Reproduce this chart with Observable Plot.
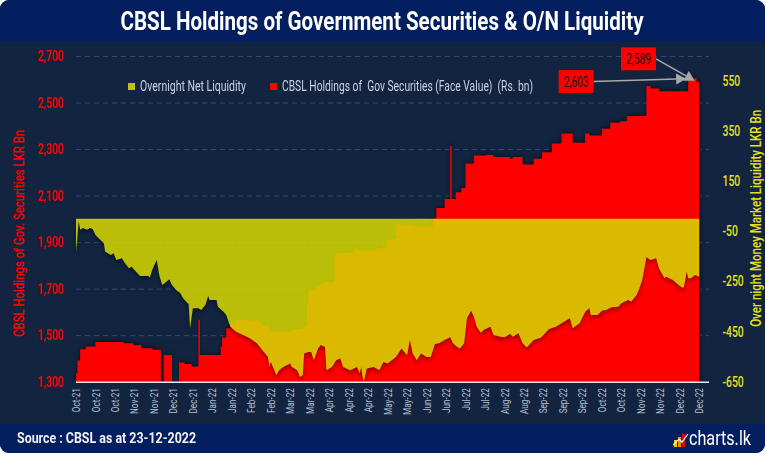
<!DOCTYPE html>
<html>
<head>
<meta charset="utf-8">
<script src="https://cdn.jsdelivr.net/npm/d3@7"></script>
<script src="https://cdn.jsdelivr.net/npm/@observablehq/plot@0.6"></script>
<style>
  html, body { margin: 0; padding: 0; background: #ffffff; }
  #card { position: relative; width: 765px; height: 453px; border-radius: 9px; overflow: hidden; background: #12243f;
          font-family: Roboto, 'Noto Sans', sans-serif; }
  #title { position: absolute; left: 0; top: 0; width: 100%; height: 42px; background: #031f5f; text-align: center; }
  #title span { display: inline-block; color: #ffffff; font-weight: bold; font-size: 25px; line-height: 44px; white-space: nowrap; transform-origin: 50% 50%; }
  #chart { position: absolute; left: 0; top: 42px; }
  .fit { position: absolute; white-space: pre; transform-origin: 0 50%; }
  .lg { color: #c9d3e4; font-size: 14px; top: 77px; line-height: 18px; }
  .sw { position: absolute; width: 7px; height: 7px; top: 83px; }
  #footer { position: absolute; left: 0; top: 424px; width: 100%; height: 29px; background: #031f5f; }
  #source { left: 17px; top: 0; line-height: 29px; color: #f2f2f2; font-size: 15px; font-weight: bold; }
  #logoText { left: 689px; top: 0; line-height: 29px; color: #ffffff; font-size: 21px; }
  #logoIcon { position: absolute; left: 673px; top: 7px; }
</style>
</head>
<body>
<div id="card">
  <div id="title"><span id="titleText">CBSL Holdings of Government Securities &amp; O/N Liquidity</span></div>
  <div id="chart"></div>
  <div id="footer">
    <div id="source" class="fit">Source : CBSL as at 23-12-2022</div>
    <svg id="logoIcon" width="16" height="16" viewBox="0 0 16 16">
      <rect x="1" y="9" width="3" height="7" fill="#f6c800"/>
      <rect x="5" y="6" width="3" height="10" fill="#f39200"/>
      <rect x="9" y="3" width="3" height="13" fill="#e30613"/>
      <path d="M0,14 L6,8 L9,11 L15,3" stroke="#ffffff" stroke-width="1.2" fill="none"/>
    </svg>
    <div id="logoText" class="fit">charts.lk</div>
  </div>
</div>
<script>
// ---------- data ----------
const holdDates = ["2021-10-01","2021-10-02","2021-10-04","2021-10-08","2021-10-15","2021-11-04","2021-11-11","2021-11-17","2021-11-25","2021-12-01",
  "2021-12-02","2021-12-03","2021-12-09","2021-12-10","2021-12-14","2021-12-18","2021-12-23","2021-12-28","2021-12-29","2022-01-12",
  "2022-01-13","2022-01-14","2022-01-17","2022-01-20","2022-01-24","2022-02-03","2022-02-10","2022-02-12","2022-02-17","2022-03-05",
  "2022-03-11","2022-03-14","2022-03-16","2022-03-17","2022-03-22","2022-03-25","2022-03-28","2022-04-04","2022-04-05","2022-04-06",
  "2022-04-18","2022-04-19","2022-04-21","2022-05-05","2022-05-12","2022-05-17","2022-05-19","2022-05-31","2022-06-12","2022-06-15",
  "2022-06-17","2022-06-23","2022-06-27","2022-06-28","2022-07-01","2022-07-05","2022-07-08","2022-07-14","2022-07-23","2022-07-28",
  "2022-08-09","2022-08-11","2022-08-18","2022-08-26","2022-09-01","2022-09-08","2022-09-15","2022-09-23","2022-10-02","2022-10-05",
  "2022-10-14","2022-10-20","2022-10-27","2022-11-01","2022-11-15","2022-11-18","2022-11-24","2022-12-15","2022-12-21","2022-12-23"];
const holdValues = [1336,1390,1440,1451,1471,1465,1458,1444,1437,1437,
  null,1415,1415,null,1382,1376,1365,1566,1415,1415,
  1450,1490,1530,1551,1566,1563,1551,1540,1514,1526,
  1530,1540,1639,1695,1709,1721,1727,1731,1846,1853,
  1860,1874,1865,1874,1910,1913,1975,1968,1971,2001,
  2047,2085,2313,2085,2114,2133,2238,2272,2276,2266,
  2258,2266,2234,2258,2286,2324,2367,2327,2367,2358,
  2387,2413,2420,2442,2571,2560,2549,2603,2589,2589];

const liqDates = ["2021-10-01","2021-10-03","2021-10-04","2021-10-06","2021-10-09","2021-10-11","2021-10-13","2021-10-15","2021-10-18","2021-10-21",
  "2021-10-22","2021-10-26","2021-10-28","2021-10-30","2021-11-03","2021-11-05","2021-11-08","2021-11-10","2021-11-12","2021-11-16",
  "2021-11-22","2021-11-23","2021-11-25","2021-11-28","2021-11-30","2021-12-02","2021-12-05","2021-12-07","2021-12-09","2021-12-12",
  "2021-12-15","2021-12-17","2021-12-20","2021-12-21","2021-12-22","2021-12-24","2021-12-28","2021-12-30","2022-01-02","2022-01-04",
  "2022-01-05","2022-01-10","2022-01-11","2022-01-15","2022-01-17","2022-01-19","2022-01-20","2022-01-24","2022-01-29","2022-02-03",
  "2022-02-08","2022-02-12","2022-02-16","2022-02-17","2022-02-18","2022-02-22","2022-02-24","2022-02-27","2022-03-04","2022-03-05",
  "2022-03-09","2022-03-11","2022-03-13","2022-03-14","2022-03-17","2022-03-19","2022-03-21","2022-03-24","2022-03-26","2022-03-29",
  "2022-03-30","2022-04-03","2022-04-06","2022-04-09","2022-04-11","2022-04-16","2022-04-21","2022-04-23","2022-04-24","2022-04-25",
  "2022-04-26","2022-04-28","2022-05-03","2022-05-07","2022-05-10","2022-05-13","2022-05-19","2022-05-23","2022-05-27","2022-05-29",
  "2022-05-31","2022-06-03","2022-06-06","2022-06-10","2022-06-13","2022-06-16","2022-06-19","2022-06-23","2022-06-27","2022-06-29",
  "2022-07-02","2022-07-04","2022-07-07","2022-07-09","2022-07-12","2022-07-14","2022-07-16","2022-07-19","2022-07-21","2022-07-26",
  "2022-07-28","2022-08-02","2022-08-05","2022-08-09","2022-08-11","2022-08-15","2022-08-18","2022-08-21","2022-08-26","2022-08-31",
  "2022-09-02","2022-09-06","2022-09-11","2022-09-15","2022-09-21","2022-09-23","2022-09-28","2022-10-02","2022-10-05","2022-10-06",
  "2022-10-11","2022-10-14","2022-10-17","2022-10-21","2022-10-26","2022-10-28","2022-11-02","2022-11-04","2022-11-08","2022-11-10",
  "2022-11-12","2022-11-15","2022-11-18","2022-11-22","2022-11-24","2022-11-28","2022-11-29","2022-12-04","2022-12-08","2022-12-11",
  "2022-12-12","2022-12-14","2022-12-15","2022-12-17","2022-12-20","2022-12-23"];
const liqValues = [-131,-11,-44,-37,-44,-37,-41,-64,-81,-97,
  -131,-144,-137,-164,-157,-175,-197,-191,-204,-228,
  -228,-234,-201,-164,-228,-264,-251,-241,-264,-284,
  -297,-317,-335,-340,-437,-357,-357,-364,-344,-308,
  -324,-324,-351,-371,-384,-417,-431,-451,-464,-477,
  -497,-524,-551,-591,-570,-624,-604,-591,-577,-590,
  -604,-631,-624,-537,-531,-531,-564,-517,-504,-511,
  -604,-591,-564,-557,-591,-604,-591,-617,-591,-631,
  -648,-597,-591,-604,-571,-577,-551,-517,-544,-484,
  -537,-564,-537,-551,-551,-500,-497,-484,-473,-497,
  -511,-517,-497,-397,-367,-391,-431,-455,-444,-431,
  -464,-471,-473,-460,-471,-457,-497,-513,-484,-475,
  -464,-440,-431,-417,-397,-437,-417,-371,-357,-384,
  -384,-367,-364,-353,-351,-337,-324,-331,-304,-277,
  -244,-153,-164,-157,-197,-237,-231,-244,-264,-275,
  -271,-211,-237,-237,-224,-231];

const leftTicks = [1300,1500,1700,1900,2100,2300,2500,2700];
const rightTicks = [-650,-450,-250,-50,150,350,550];
const xTickDates = ["2021-10-01","2021-10-15","2021-10-29","2021-11-12","2021-11-26","2021-12-10","2021-12-24",
  "2022-01-07","2022-01-21","2022-02-04","2022-02-18","2022-03-04","2022-03-18","2022-04-01","2022-04-15","2022-04-29",
  "2022-05-13","2022-05-27","2022-06-10","2022-06-24","2022-07-08","2022-07-22","2022-08-05","2022-08-19","2022-09-02",
  "2022-09-16","2022-09-30","2022-10-14","2022-10-28","2022-11-11","2022-11-25","2022-12-09","2022-12-23"];
const calloutDates = ["2022-12-15","2022-12-21"];
const calloutValues = [2603, 2589];
const seriesNames = ["Overnight Net Liquidity", "CBSL Holdings of  Gov Securities (Face Value)  (Rs. bn)"];
const leftTitle = "CBSL Holdings of Gov. Securities LKR Bn";
const rightTitle = "Over night Money Market Liquidity LKR Bn";

// ---------- scales mapping (right axis mapped onto the left scale) ----------
const leftDomain = [1300, 2700];
const rightDomain = [-650, 650];
const k = (leftDomain[1] - leftDomain[0]) / (rightDomain[1] - rightDomain[0]);
const toLeft = v => leftDomain[0] + (v - rightDomain[0]) * k;
const fromLeft = v => rightDomain[0] + (v - leftDomain[0]) / k;

const hold = holdDates.map((d, i) => ({date: new Date(d), value: holdValues[i]}));
const liq = liqDates.map((d, i) => ({date: new Date(d), value: liqValues[i]}));

const FONT = "Roboto, 'Noto Sans', sans-serif";
const RED = "#ff0000", YEL = "#e7e800", AXYEL = "#e6e21c", LIQ_SWATCH = "#bfc10f";

const calloutOffsets = [{dx: -112, dy: 3}, {dx: -58, dy: -23}];
function callouts(index, scales) {
  const g = d3.create("svg:g");
  calloutDates.forEach((d, i) => {
    const px = scales.x(new Date(d)), py = scales.y(calloutValues[i]);
    const o = calloutOffsets[i];
    const bx = px + o.dx, by = py + o.dy, bw = 35, bh = 23;
    const sx = bx + bw / 2, sy = by;
    const ang = Math.atan2(py - sy, px - sx);
    const len = Math.hypot(px - sx, py - sy) - 2;
    const ex = sx + Math.cos(ang) * len, ey = sy + Math.sin(ang) * len;
    const hl = 10, hw = 5.5;
    const hx = ex - Math.cos(ang) * hl, hy = ey - Math.sin(ang) * hl;
    g.append("line").attr("x1", sx).attr("y1", sy).attr("x2", hx).attr("y2", hy)
      .attr("stroke", "#a9a9a9").attr("stroke-width", 1.5);
    g.append("path").attr("d", `M${ex},${ey}L${hx - Math.sin(ang) * hw},${hy + Math.cos(ang) * hw}L${hx + Math.sin(ang) * hw},${hy - Math.cos(ang) * hw}Z`)
      .attr("fill", "#a9a9a9");
    g.append("rect").attr("x", bx - bw / 2).attr("y", by - bh / 2).attr("width", bw).attr("height", bh).attr("fill", RED);
    g.append("text").attr("class", "callout").attr("x", bx).attr("y", by).attr("dy", "0.36em").attr("text-anchor", "middle")
      .attr("fill", "#111").attr("font-size", 15).attr("font-family", FONT).text(d3.format(",")(calloutValues[i]));
  });
  return g.node();
}

const chart = Plot.plot({
  width: 765,
  height: 382,
  marginTop: 14,
  marginBottom: 42.3,
  marginLeft: 76,
  marginRight: 56,
  style: {background: "transparent", fontFamily: FONT, overflow: "visible"},
  x: {type: "utc", domain: [new Date("2021-10-01"), new Date("2022-12-30")]},
  y: {domain: leftDomain},
  marks: [
    Plot.ruleY(leftTicks.filter(t => t > leftDomain[0]), {stroke: "#2b4d7e", strokeDasharray: "5,4", strokeWidth: 1}),
    Plot.areaY(hold, {x: "date", y1: leftDomain[0], y2: "value", curve: "step-after", fill: RED}),
    Plot.areaY(liq, {x: "date", y1: toLeft(0), y2: d => toLeft(d.value), fill: YEL, fillOpacity: 0.8}),
    Plot.ruleY([leftDomain[0]], {stroke: "#e9e9e9", strokeWidth: 1.5}),
    Plot.axisY(leftTicks, {anchor: "left", tickSize: 0, tickPadding: 13, tickFormat: d3.format(","), fill: RED, fontSize: 14, fontWeight: 500, label: null}),
    Plot.axisY(rightTicks.map(toLeft), {anchor: "right", tickSize: 0, tickPadding: 13, tickFormat: v => String(Math.round(fromLeft(v))), fill: AXYEL, fontSize: 14, fontWeight: 500, label: null}),
    Plot.axisX(xTickDates.map(d => new Date(d)), {anchor: "bottom", tickRotate: -90, tickSize: 0, tickPadding: 6, tickFormat: d3.utcFormat("%b-%y"), fill: "#b5c0d2", fontSize: 11, label: null}),
    Plot.text([leftTitle], {frameAnchor: "left", dx: -57, dy: 14, rotate: -90, textAnchor: "middle", fill: RED, fontSize: 15, fontWeight: 500, text: d => d}),
    Plot.text([rightTitle], {frameAnchor: "right", dx: 47, dy: -1, rotate: -90, textAnchor: "middle", fill: AXYEL, fontSize: 15, fontWeight: 500, text: d => d}),
    callouts
  ]
});
document.getElementById("chart").appendChild(chart);

// ---------- condense the texts (the original uses a condensed face) ----------
const targets = new Map([[leftTitle, 207], [rightTitle, 217]]);
chart.querySelectorAll("text").forEach(t => {
  const s = t.textContent;
  const w = t.getComputedTextLength();
  if (!w) return;
  const anchor = getComputedStyle(t).textAnchor;
  let L;
  if (targets.has(s)) L = targets.get(s);
  else if (t.classList.contains("callout")) L = w * 0.68;
  else L = w * 0.74;
  t.setAttribute("text-anchor", anchor);
  t.setAttribute("textLength", L);
  t.setAttribute("lengthAdjust", "spacingAndGlyphs");
});

// soft drop shadows like the original
const areas = chart.querySelectorAll('g[aria-label="area"]');
if (areas[0]) areas[0].style.filter = "drop-shadow(0px -1px 2px rgba(0,0,0,0.55))";
if (areas[1]) areas[1].style.filter = "drop-shadow(0px 3px 2px rgba(0,0,0,0.45))";

// ---------- legend ----------
const card = document.getElementById("card");
const legendLayout = [{swX: 128, textX: 140, width: 106}, {swX: 270, textX: 282, width: 251}];
[LIQ_SWATCH, RED].forEach((c, i) => {
  const sw = document.createElement("div");
  sw.className = "sw";
  sw.style.left = legendLayout[i].swX + "px";
  sw.style.background = c;
  card.appendChild(sw);
  const t = document.createElement("div");
  t.className = "fit lg";
  t.style.left = legendLayout[i].textX + "px";
  t.textContent = seriesNames[i];
  t.dataset.target = legendLayout[i].width;
  card.appendChild(t);
});

function fit(el, target) {
  const w = el.getBoundingClientRect().width;
  if (w) el.style.transform = `scaleX(${target / w})`;
}
document.querySelectorAll(".lg").forEach(el => fit(el, +el.dataset.target));
fit(document.getElementById("titleText"), 523);
fit(document.getElementById("source"), 179);
fit(document.getElementById("logoText"), 62);
</script>
</body>
</html>
